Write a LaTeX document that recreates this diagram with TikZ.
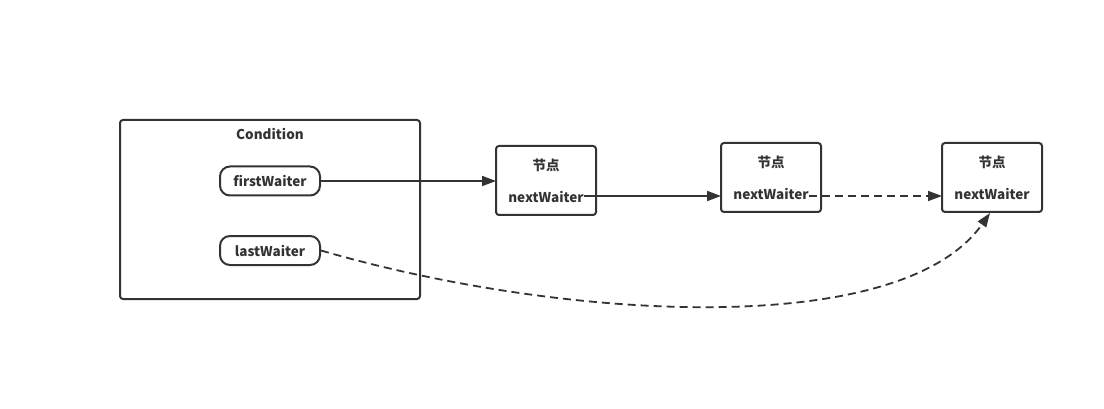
\documentclass[tikz,border=0pt]{standalone}
\usepackage{fontspec}
\setmainfont{Noto Sans CJK SC}
\usetikzlibrary{arrows.meta}
\definecolor{ink}{HTML}{333333}
\begin{document}
\begin{tikzpicture}[x=1pt,y=-1pt,
    every node/.style={font=\fontsize{13.5}{15}\selectfont\bfseries, text=ink},
    frame/.style={draw=ink, line width=2pt, rounded corners=3pt},
    pill/.style={draw=ink, line width=2pt, rounded corners=10pt,
                 minimum width=100pt, minimum height=29pt, inner sep=0pt},
    word/.style={inner sep=0pt},
    link/.style={draw=ink, line width=1.8pt, -{Triangle[length=14pt,width=10pt]}},
    later/.style={link, dash pattern=on 8pt off 5pt}]
\useasboundingbox (0,0) rectangle (1104,409);

% the condition
\draw[frame] (120,120) rectangle (420,299);
\node (cond) at (270,134) {Condition};
\node[pill] (first) at (270,181) {firstWaiter};
\node[pill] (last) at (270,250.5) {lastWaiter};

% the waiting nodes
\draw[frame] (496,146) rectangle (596,215);
\node[word] (t1) at (546,165) {节点};
\node[word] (w1) at (546,197) {nextWaiter};
\coordinate (in1) at (496,181);

\draw[frame] (721,143) rectangle (821,212);
\node[word] (t2) at (771,162) {节点};
\node[word] (w2) at (771,194) {nextWaiter};
\coordinate (in2) at (721,196);

\draw[frame] (942,143) rectangle (1042,212);
\node[word] (t3) at (992,162) {节点};
\node[word] (w3) at (992,194) {nextWaiter};
\coordinate (in3) at (942,196);
\coordinate (bot3) at (990,213);

\draw[link] (first.east) -- (first.east -| in1);
\draw[link] (w1.east |- in2) -- (in2);
\draw[later] (w2.east |- in3) -- (in3);
\draw[later] (last.east) .. controls (560,320) and (900,341) .. (bot3);

\end{tikzpicture}
\end{document}
